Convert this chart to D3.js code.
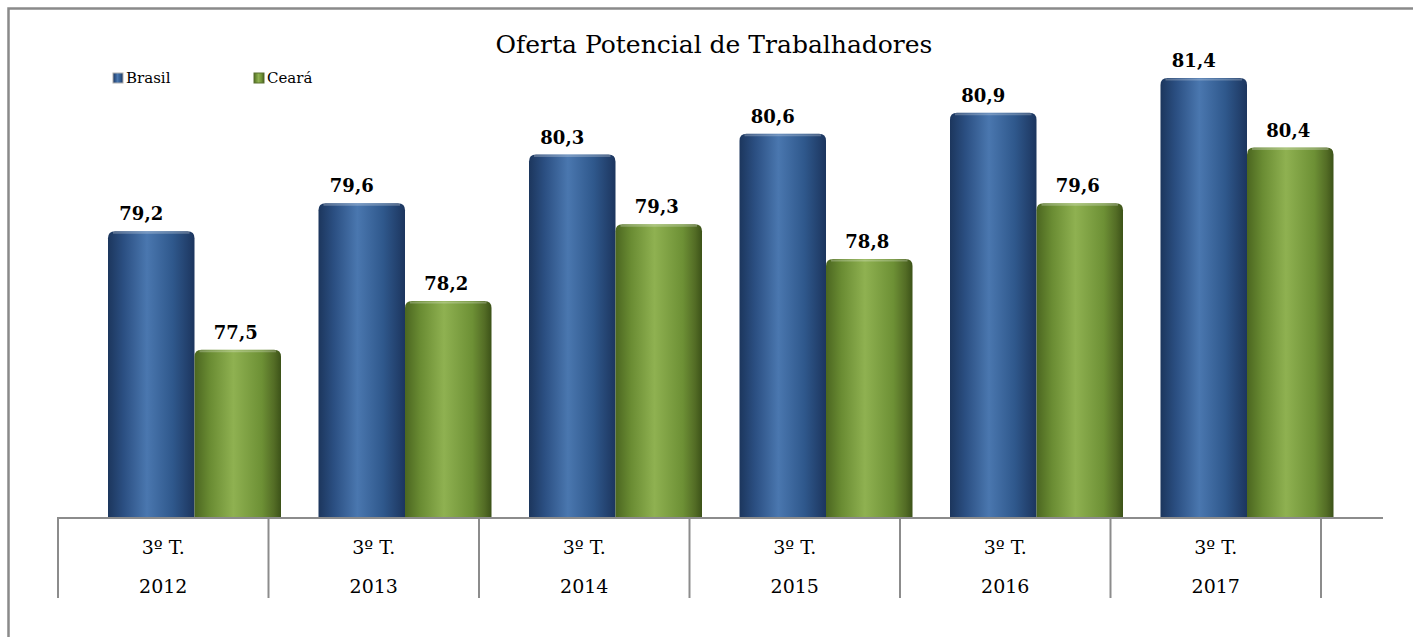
<!DOCTYPE html>
<html>
<head>
<meta charset="utf-8">
<script src="https://cdn.jsdelivr.net/npm/d3@7"></script>
<style>
    body { margin: 0; background: #fff; }
    svg { display: block; font-family: 'DejaVu Serif', 'Liberation Serif', serif; }
</style>
</head>
<body>
<div id="chart"></div>
<script>
// Chart data
const years = ['2012', '2013', '2014', '2015', '2016', '2017'];
const periods = ['3º T.', '3º T.', '3º T.', '3º T.', '3º T.', '3º T.'];
const seriesNames = ['Brasil', 'Ceará'];
const brasil = [79.2, 79.6, 80.3, 80.6, 80.9, 81.4];
const ceara = [77.5, 78.2, 79.3, 78.8, 79.6, 80.4];

const width = 1413;
const height = 637;

const svg = d3.select('#chart')
    .append('svg')
    .attr('width', width)
    .attr('height', height);

// Gradients for the cylinder look
const defs = svg.append('defs');
const gradients = {
    Brasil: [['0%', '#1c365d'], ['18%', '#2b4f82'], ['45%', '#4a77af'], ['75%', '#2f588c'], ['100%', '#1c355e']],
    'Ceará': [['0%', '#4b6620'], ['18%', '#6a8c33'], ['45%', '#8fb151'], ['78%', '#6d9035'], ['92%', '#536c25'], ['100%', '#3c5218']]
};
Object.entries(gradients).forEach(([name, stops], i) => {
    const g = defs.append('linearGradient')
        .attr('id', `grad${i}`)
        .attr('x1', '0%').attr('x2', '100%')
        .attr('y1', '0%').attr('y2', '0%');
    stops.forEach(s => g.append('stop').attr('offset', s[0]).attr('stop-color', s[1]));
});
const gradId = name => `url(#grad${seriesNames.indexOf(name)})`;

// Outer border
svg.append('rect')
    .attr('x', 8.5)
    .attr('y', 8.5)
    .attr('width', width)
    .attr('height', height)
    .attr('fill', 'none')
    .attr('stroke', '#8a8a8a')
    .attr('stroke-width', 2.5);

// Title
svg.append('text')
    .attr('x', 714)
    .attr('y', 53)
    .attr('text-anchor', 'middle')
    .attr('font-size', 25)
    .attr('fill', '#000')
    .text('Oferta Potencial de Trabalhadores');

// Scales
const baseline = 517;
const x = d3.scaleBand()
    .domain(years)
    .range([58, 1321])
    .padding(0);

const x1 = d3.scaleBand()
    .domain(seriesNames)
    .range([50, 223])
    .padding(0);

const y = d3.scaleLinear()
    .domain([75.1, 82])
    .range([baseline, baseline - 6.9 * 69.7]);

// Bars data
const data = [];
years.forEach((yr, i) => {
    data.push({ year: yr, series: 'Brasil', value: brasil[i] });
    data.push({ year: yr, series: 'Ceará', value: ceara[i] });
});

// Bar with rounded top
const barPath = d => {
    const x0 = x(d.year) + x1(d.series);
    const w = x1.bandwidth();
    const top = y(d.value);
    const r = 7;
    return `M${x0},${baseline} L${x0},${top + r} Q${x0},${top} ${x0 + r},${top} L${x0 + w - r},${top} Q${x0 + w},${top} ${x0 + w},${top + r} L${x0 + w},${baseline} Z`;
};

const bars = svg.append('g').attr('class', 'bars');
bars.selectAll('path')
    .data(data)
    .join('path')
    .attr('d', barPath)
    .attr('fill', d => gradId(d.series));

// Highlight along the top of each bar
bars.selectAll('line.cap')
    .data(data)
    .join('line')
    .attr('class', 'cap')
    .attr('x1', d => x(d.year) + x1(d.series) + 5)
    .attr('x2', d => x(d.year) + x1(d.series) + x1.bandwidth() - 5)
    .attr('y1', d => y(d.value) + 1.5)
    .attr('y2', d => y(d.value) + 1.5)
    .attr('stroke', '#fff')
    .attr('stroke-opacity', 0.25)
    .attr('stroke-width', 2);

// Value labels
svg.append('g')
    .attr('class', 'labels')
    .selectAll('text')
    .data(data)
    .join('text')
    .attr('x', d => x(d.year) + x1(d.series) + x1.bandwidth() / 2 + (d.series === 'Brasil' ? -10 : -2))
    .attr('y', d => y(d.value) - 11)
    .attr('text-anchor', 'middle')
    .attr('font-size', 18)
    .attr('font-weight', 'bold')
    .attr('fill', '#000')
    .text(d => d3.format('.1f')(d.value).replace('.', ','));

// Category axis (table style)
const axis = svg.append('g')
    .attr('class', 'x-axis')
    .attr('stroke', '#8c8c8c')
    .attr('stroke-width', 2);

axis.append('line')
    .attr('x1', x.range()[0])
    .attr('x2', 1383)
    .attr('y1', baseline + 1)
    .attr('y2', baseline + 1);

axis.selectAll('line.divider')
    .data(years.map(yr => x(yr)).concat([x.range()[1]]))
    .join('line')
    .attr('class', 'divider')
    .attr('x1', d => d)
    .attr('x2', d => d)
    .attr('y1', baseline)
    .attr('y2', 598);

const labels = svg.append('g')
    .attr('class', 'x-labels')
    .attr('font-size', 19)
    .attr('text-anchor', 'middle')
    .attr('fill', '#000');

labels.selectAll('text.period')
    .data(years)
    .join('text')
    .attr('class', 'period')
    .attr('x', d => x(d) + x.bandwidth() / 2)
    .attr('y', 554)
    .text((d, i) => periods[i]);

labels.selectAll('text.year')
    .data(years)
    .join('text')
    .attr('class', 'year')
    .attr('x', d => x(d) + x.bandwidth() / 2)
    .attr('y', 593)
    .text(d => d);

// Legend
const legend = svg.append('g')
    .attr('class', 'legend')
    .attr('font-size', 15);

const legendX = [113, 254];
seriesNames.forEach((name, i) => {
    legend.append('rect')
        .attr('x', legendX[i])
        .attr('y', 73)
        .attr('width', 10)
        .attr('height', 10)
        .attr('fill', gradId(name))
        .attr('stroke', i === 0 ? '#b0b0b0' : '#5a7030')
        .attr('stroke-width', 1);
    legend.append('text')
        .attr('x', legendX[i] + 13)
        .attr('y', 83)
        .text(name);
});
</script>
</body>
</html>
